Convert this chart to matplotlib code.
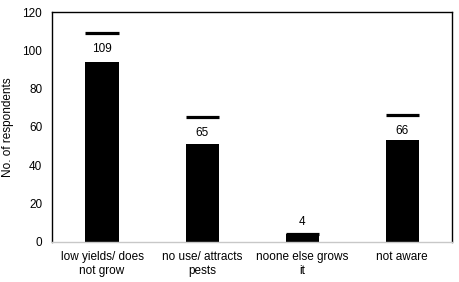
import matplotlib.pyplot as plt
import numpy as np

plt.rcParams['font.family'] = ['Liberation Sans', 'DejaVu Sans']

categories = ["low yields/ does\nnot grow", "no use/ attracts\npests", "noone else grows\nit", "not aware"]
bar_values = [94, 51, 4, 53]
totals = [109, 65, 4, 66]

fig = plt.figure(figsize=(4.6, 2.82), dpi=100)
ax = fig.add_axes([0.113, 0.143, 0.870, 0.814])

x = np.arange(len(categories))
w = 0.33
ax.bar(x, bar_values, width=w, color="black")
ax.hlines(totals, x - w / 2, x + w / 2, colors="black", linewidth=2.3)

for xi, b, t in zip(x, bar_values, totals):
    if t > b:
        ax.text(xi, t - 5, str(t), ha="center", va="top", fontsize=8.5)
    else:
        ax.text(xi, t + 3, str(t), ha="center", va="bottom", fontsize=8.5)

ax.set_xlim(-0.5, len(categories) - 0.5)
ax.set_ylim(0, 120)
ax.set_yticks(range(0, 121, 20))
ax.set_xticks(x)
ax.set_xticklabels(categories, fontsize=8.5, linespacing=1.15)
ax.tick_params(axis="y", length=0, pad=7, labelsize=8.5)
ax.tick_params(axis="x", length=0, pad=7)
ax.set_ylabel("No. of respondents", fontsize=8.5, labelpad=6)

for s in ["left", "top", "right"]:
    ax.spines[s].set_color("black")
    ax.spines[s].set_linewidth(1.0)
ax.spines["bottom"].set_color("#c8c8c8")
ax.spines["bottom"].set_linewidth(1.0)

fig.savefig("out.png", dpi=100)
